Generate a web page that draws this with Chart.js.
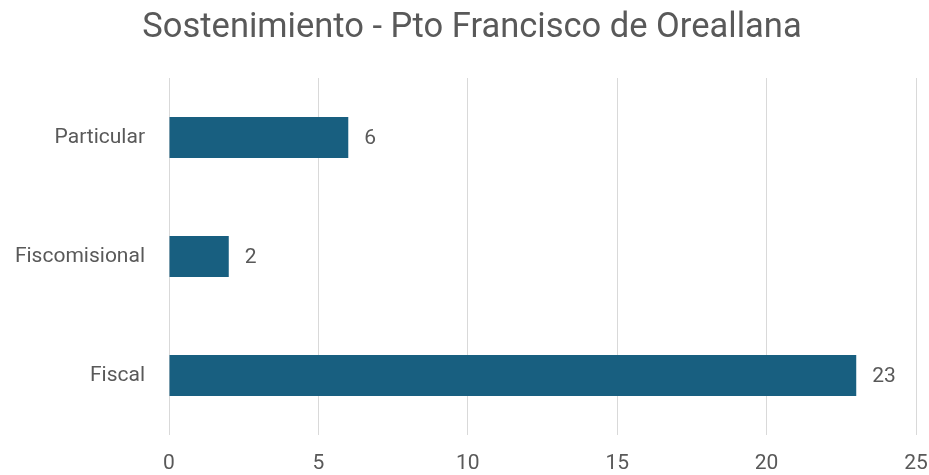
<!DOCTYPE html>
<html>
<head>
<meta charset="utf-8">
<script src="https://cdn.jsdelivr.net/npm/chart.js@4/dist/chart.umd.min.js"></script>
<style>
html,body{margin:0;padding:0;background:#fff;}
#wrap{width:929px;height:475px;position:relative;}
</style>
</head>
<body>
<div id="wrap"><canvas id="c"></canvas></div>
<script>
const titleText = "Sostenimiento - Pto Francisco de Oreallana";
const categories = ["Particular", "Fiscomisional", "Fiscal"];
const values = [6, 2, 23];
const xTicks = [0, 5, 10, 15, 20, 25];

const FONT = "Roboto, 'Liberation Sans', sans-serif";
const TEXT = "#595959";

const valueLabels = {
  id: 'valueLabels',
  afterDatasetsDraw(chart) {
    const ctx = chart.ctx;
    const meta = chart.getDatasetMeta(0);
    ctx.save();
    ctx.font = "21px " + FONT;
    ctx.fillStyle = TEXT;
    ctx.textAlign = 'left';
    ctx.textBaseline = 'middle';
    meta.data.forEach((bar, i) => {
      ctx.fillText(String(values[i]), bar.x + 16, bar.y + 1);
    });
    ctx.restore();
  }
};

const titleDraw = {
  id: 'titleDraw',
  afterDraw(chart) {
    const ctx = chart.ctx;
    ctx.save();
    ctx.font = "34.5px " + FONT;
    ctx.fillStyle = TEXT;
    ctx.textAlign = 'center';
    ctx.textBaseline = 'alphabetic';
    ctx.fillText(titleText, 472, 37);
    ctx.restore();
  }
};

new Chart(document.getElementById('c'), {
  type: 'bar',
  data: {
    labels: categories,
    datasets: [{
      data: values,
      backgroundColor: '#185F80',
      borderWidth: 0,
      barPercentage: 0.69,
      categoryPercentage: 0.5
    }]
  },
  options: {
    indexAxis: 'y',
    responsive: true,
    maintainAspectRatio: false,
    animation: false,
    layout: { padding: { left: 0, right: 13, top: 78, bottom: 0 } },
    plugins: {
      legend: { display: false },
      tooltip: { enabled: false },
      title: { display: false }
    },
    scales: {
      x: {
        min: 0, max: 25,
        afterBuildTicks(scale) { scale.ticks = xTicks.map(v => ({ value: v })); },
        grid: { color: '#d9d9d9', lineWidth: 1, drawTicks: false },
        border: { display: false },
        ticks: { color: TEXT, font: { family: FONT, size: 21 }, padding: 16 },
        afterFit(scale) { scale.height = 40; scale.paddingRight = 0; scale.paddingLeft = 0; }
      },
      y: {
        grid: { display: false, drawTicks: false },
        border: { display: false },
        ticks: { color: TEXT, font: { family: FONT, size: 21 }, padding: 24 },
        afterFit(scale) { scale.width = 169; scale.paddingTop = 0; scale.paddingBottom = 0; }
      }
    }
  },
  plugins: [valueLabels, titleDraw]
});
</script>
</body>
</html>
